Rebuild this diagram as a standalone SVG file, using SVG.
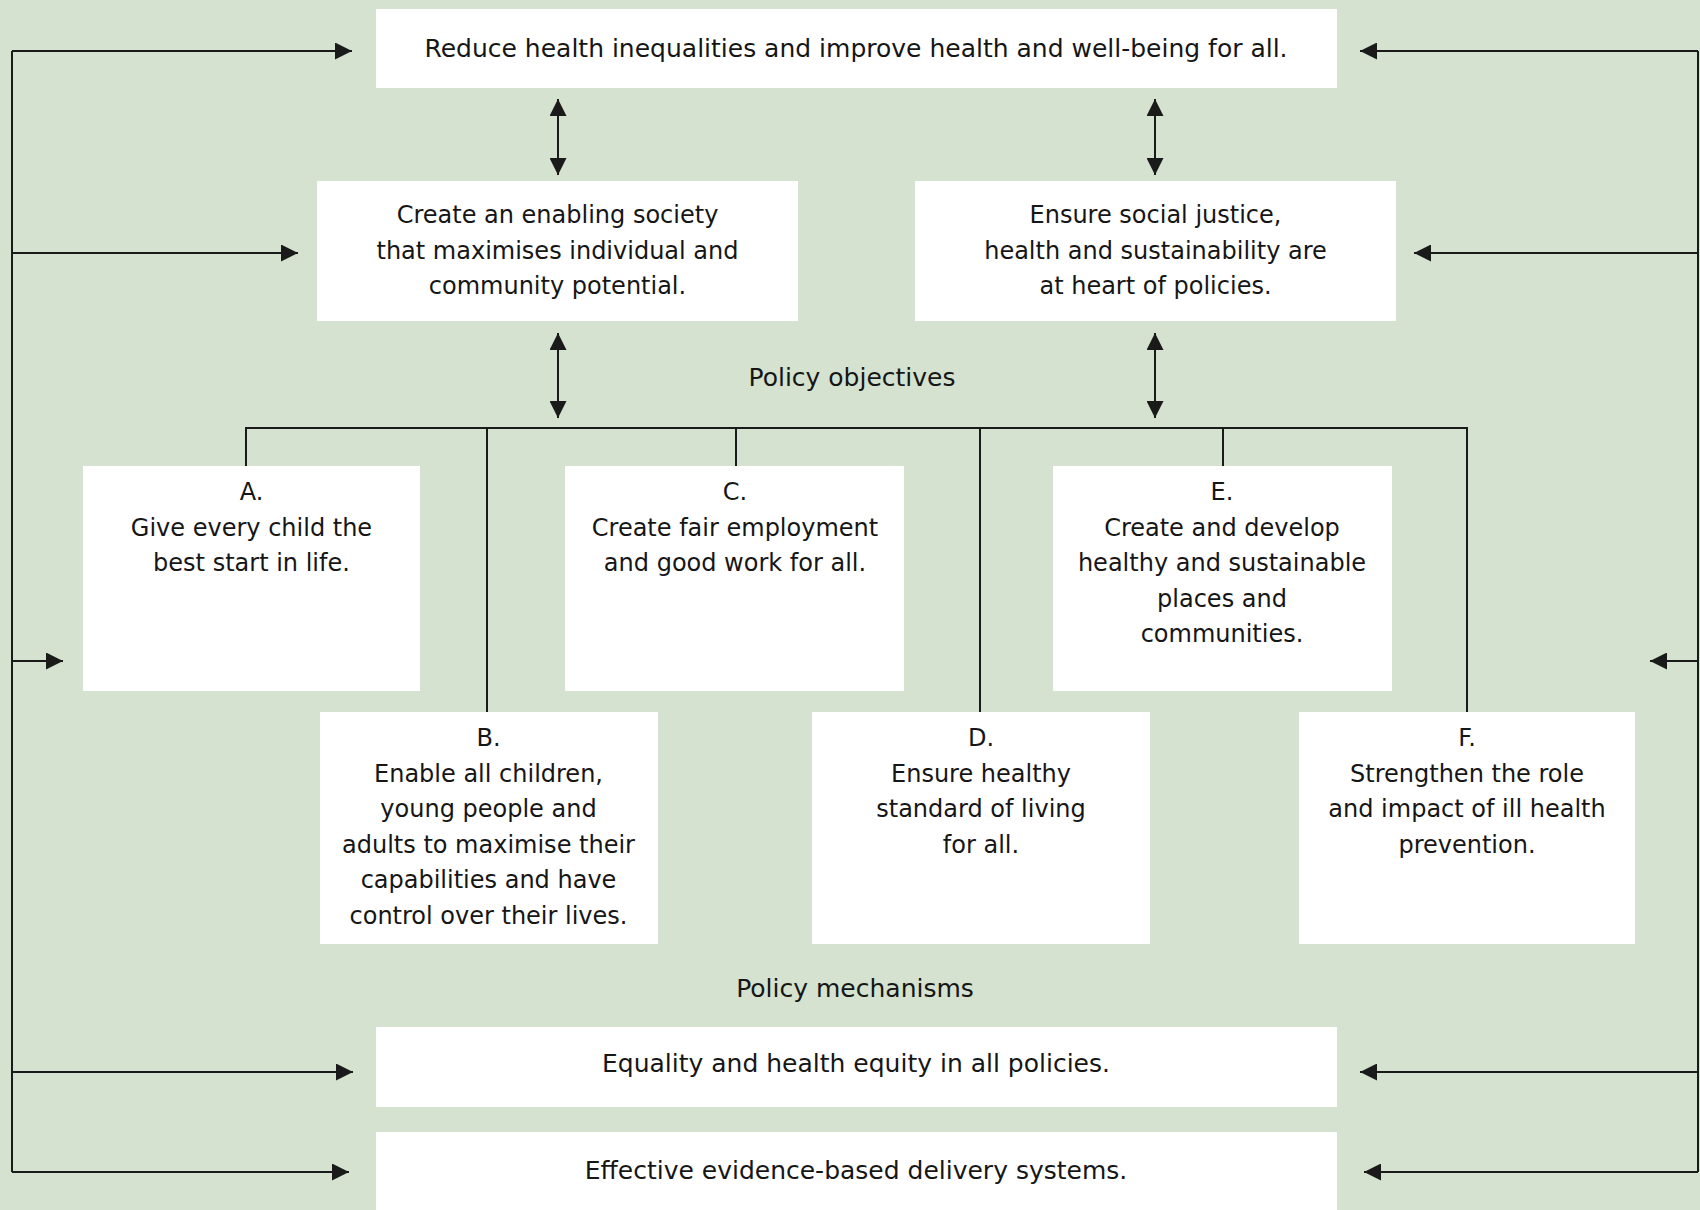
<svg xmlns="http://www.w3.org/2000/svg" width="1700" height="1210" viewBox="0 0 1700 1210">
<style>
.box{fill:#ffffff}
.t{font-family:"DejaVu Sans","Liberation Sans",sans-serif;font-size:24px;fill:#161616;text-anchor:middle}
.t25{font-size:25px}
.ln{stroke:#1a1a1a;stroke-width:2;fill:none}
.arr{marker-end:url(#ah)}
.dbl{marker-start:url(#ah);marker-end:url(#ah)}
</style>
<defs>
<marker id="ah" viewBox="0 0 16 16" refX="16" refY="8" markerWidth="17" markerHeight="17" markerUnits="userSpaceOnUse" orient="auto-start-reverse">
<path d="M0,0 L16,8 L0,16 z" fill="#1a1a1a"/>
</marker>
</defs>
<rect x="0" y="0" width="1700" height="1210" fill="#d4e2cf"/>

<g id="connectors">
<path class="ln" d="M12,51 V1172"/>
<path class="ln" d="M1698,51 V1172"/>
<line class="ln arr" x1="12" y1="51" x2="352" y2="51"/>
<line class="ln arr" x1="12" y1="253" x2="298" y2="253"/>
<line class="ln arr" x1="12" y1="661" x2="63" y2="661"/>
<line class="ln arr" x1="12" y1="1072" x2="353" y2="1072"/>
<line class="ln arr" x1="12" y1="1172" x2="349" y2="1172"/>
<line class="ln arr" x1="1698" y1="51" x2="1360" y2="51"/>
<line class="ln arr" x1="1698" y1="253" x2="1414" y2="253"/>
<line class="ln arr" x1="1698" y1="661" x2="1650" y2="661"/>
<line class="ln arr" x1="1698" y1="1072" x2="1360" y2="1072"/>
<line class="ln arr" x1="1698" y1="1172" x2="1364" y2="1172"/>
<line class="ln dbl" x1="558" y1="99" x2="558" y2="175"/>
<line class="ln dbl" x1="1155" y1="99" x2="1155" y2="175"/>
<line class="ln dbl" x1="558" y1="333" x2="558" y2="418"/>
<line class="ln dbl" x1="1155" y1="333" x2="1155" y2="418"/>
<path class="ln" d="M246,466 V428 H1467 V712"/>
<line class="ln" x1="487" y1="428" x2="487" y2="712"/>
<line class="ln" x1="736" y1="428" x2="736" y2="466"/>
<line class="ln" x1="980" y1="428" x2="980" y2="712"/>
<line class="ln" x1="1223" y1="428" x2="1223" y2="466"/>
</g>

<g id="goal">
<rect class="box" x="376" y="9" width="961" height="79"/>
<text class="t t25" x="856" y="57">Reduce health inequalities and improve health and well-being for all.</text>
</g>

<g id="enabling-society">
<rect class="box" x="317" y="181" width="481" height="140"/>
<text class="t" x="557.5" y="223">Create an enabling society</text>
<text class="t" x="557.5" y="258.5">that maximises individual and</text>
<text class="t" x="557.5" y="294">community potential.</text>
</g>

<g id="social-justice">
<rect class="box" x="915" y="181" width="481" height="140"/>
<text class="t" x="1155.5" y="223">Ensure social justice,</text>
<text class="t" x="1155.5" y="258.5">health and sustainability are</text>
<text class="t" x="1155.5" y="294">at heart of policies.</text>
</g>

<g id="label-objectives">
<text class="t t25" x="852" y="386">Policy objectives</text>
</g>

<g id="obj-a">
<rect class="box" x="83" y="466" width="337" height="225"/>
<text class="t" x="251.5" y="500">A.</text>
<text class="t" x="251.5" y="535.5">Give every child the</text>
<text class="t" x="251.5" y="571">best start in life.</text>
</g>

<g id="obj-c">
<rect class="box" x="565" y="466" width="339" height="225"/>
<text class="t" x="735" y="500">C.</text>
<text class="t" x="735" y="535.5">Create fair employment</text>
<text class="t" x="735" y="571">and good work for all.</text>
</g>

<g id="obj-e">
<rect class="box" x="1053" y="466" width="339" height="225"/>
<text class="t" x="1222" y="500">E.</text>
<text class="t" x="1222" y="535.5">Create and develop</text>
<text class="t" x="1222" y="571">healthy and sustainable</text>
<text class="t" x="1222" y="606.5">places and</text>
<text class="t" x="1222" y="642">communities.</text>
</g>

<g id="obj-b">
<rect class="box" x="320" y="712" width="338" height="232"/>
<text class="t" x="488.5" y="746">B.</text>
<text class="t" x="488.5" y="781.5">Enable all children,</text>
<text class="t" x="488.5" y="817">young people and</text>
<text class="t" x="488.5" y="852.5">adults to maximise their</text>
<text class="t" x="488.5" y="888">capabilities and have</text>
<text class="t" x="488.5" y="923.5">control over their lives.</text>
</g>

<g id="obj-d">
<rect class="box" x="812" y="712" width="338" height="232"/>
<text class="t" x="981" y="746">D.</text>
<text class="t" x="981" y="781.5">Ensure healthy</text>
<text class="t" x="981" y="817">standard of living</text>
<text class="t" x="981" y="852.5">for all.</text>
</g>

<g id="obj-f">
<rect class="box" x="1299" y="712" width="336" height="232"/>
<text class="t" x="1467" y="746">F.</text>
<text class="t" x="1467" y="781.5">Strengthen the role</text>
<text class="t" x="1467" y="817">and impact of ill health</text>
<text class="t" x="1467" y="852.5">prevention.</text>
</g>

<g id="label-mechanisms">
<text class="t t25" x="855" y="997">Policy mechanisms</text>
</g>

<g id="mech-equality">
<rect class="box" x="376" y="1027" width="961" height="80"/>
<text class="t t25" x="856" y="1072">Equality and health equity in all policies.</text>
</g>

<g id="mech-delivery">
<rect class="box" x="376" y="1132" width="961" height="90"/>
<text class="t t25" x="856" y="1179">Effective evidence-based delivery systems.</text>
</g>
</svg>
